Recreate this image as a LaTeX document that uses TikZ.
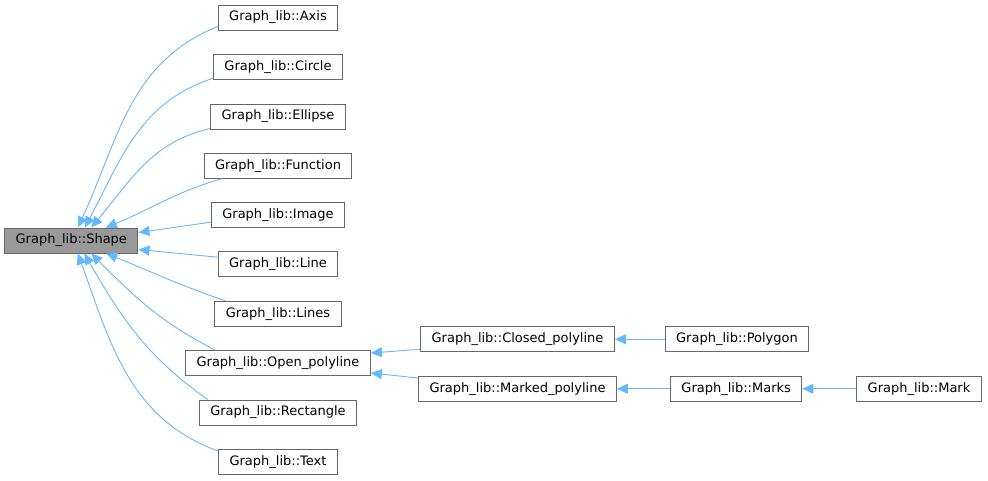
\documentclass[tikz,border=0pt]{standalone}
\usepackage{fontspec}
\setmainfont{DejaVu Sans}
\usetikzlibrary{arrows.meta}
\definecolor{edgeblue}{HTML}{63B8FF}
\definecolor{boxgray}{HTML}{666666}
\definecolor{basefill}{HTML}{999999}

\begin{document}
\begin{tikzpicture}[x=1pt,y=1pt,
  cls/.style={draw=boxgray,line width=1pt,fill=white,inner xsep=11pt,inner ysep=0pt,
    minimum height=25pt,font=\fontsize{13}{15}\selectfont},
  base/.style={cls,fill=basefill},
  inh/.style={draw=edgeblue,line width=0.9pt,-{Triangle[length=11pt,width=10pt]}}]
  \useasboundingbox (0,0) rectangle (988,-480);
  % base class
  \node[base] (shape) at (71.3,-240.5) {Graph\_lib::Shape};
  % direct children
  \node[cls] (axis)     at (278,-17.5)  {Graph\_lib::Axis};
  \node[cls] (circle)   at (278,-67.3)  {Graph\_lib::Circle};
  \node[cls] (ellipse)  at (278,-116.5) {Graph\_lib::Ellipse};
  \node[cls] (function) at (278,-165.8) {Graph\_lib::Function};
  \node[cls] (image)    at (278,-215.2) {Graph\_lib::Image};
  \node[cls] (line)     at (278,-264.2) {Graph\_lib::Line};
  \node[cls] (lines)    at (278,-313.8) {Graph\_lib::Lines};
  \node[cls] (openpl)   at (278,-363)   {Graph\_lib::Open\_polyline};
  \node[cls] (rect)     at (278,-412.5) {Graph\_lib::Rectangle};
  \node[cls] (text)     at (278,-462)   {Graph\_lib::Text};
  % deeper levels
  \node[cls] (closedpl) at (517.5,-339.3) {Graph\_lib::Closed\_polyline};
  \node[cls] (markedpl) at (517.5,-388.8) {Graph\_lib::Marked\_polyline};
  \node[cls] (polygon)  at (737,-339.3)   {Graph\_lib::Polygon};
  \node[cls] (marks)    at (736.2,-388.8) {Graph\_lib::Marks};
  \node[cls] (mark)     at (919,-388.8)   {Graph\_lib::Mark};

  % edges into Shape, upper fan
  \draw[inh] ([yshift=4pt]axis.south west)    to[out=202,in=65] ([xshift=6.5pt]shape.north);
  \draw[inh] ([yshift=2pt]circle.south west)  to[out=198,in=62] ([xshift=13.5pt]shape.north);
  \draw[inh] ([yshift=1pt]ellipse.south west) to[out=193,in=50] ([xshift=20pt]shape.north);
  \draw[inh] ([xshift=18pt]function.south west) to[out=196,in=22] ([xshift=34.5pt]shape.north);
  \draw[inh] ([yshift=-7pt]image.west) -- ([yshift=8pt]shape.east);
  \draw[inh] ([yshift=7pt]line.west) -- ([yshift=-9pt]shape.east);
  % edges into Shape, lower fan
  \draw[inh] ([xshift=11pt]lines.north west)  to[out=161,in=-22] ([xshift=35pt]shape.south);
  \draw[inh] ([xshift=30pt]openpl.north west) to[out=153,in=-45] ([xshift=20pt]shape.south);
  \draw[inh] ([xshift=9pt]rect.north west)    to[out=145,in=-60] ([xshift=13pt]shape.south);
  \draw[inh] ([yshift=-2pt]text.north west)   to[out=160,in=-70] ([xshift=6.5pt]shape.south);

  % polyline branch
  \draw[inh] ([yshift=-10pt]closedpl.west) -- ([yshift=10pt]openpl.east);
  \draw[inh] ([yshift=10.8pt]markedpl.west) -- ([yshift=-10pt]openpl.east);
  \draw[inh] (polygon) -- (closedpl);
  \draw[inh] (marks) -- (markedpl);
  \draw[inh] (mark) -- (marks);
\end{tikzpicture}
\end{document}
